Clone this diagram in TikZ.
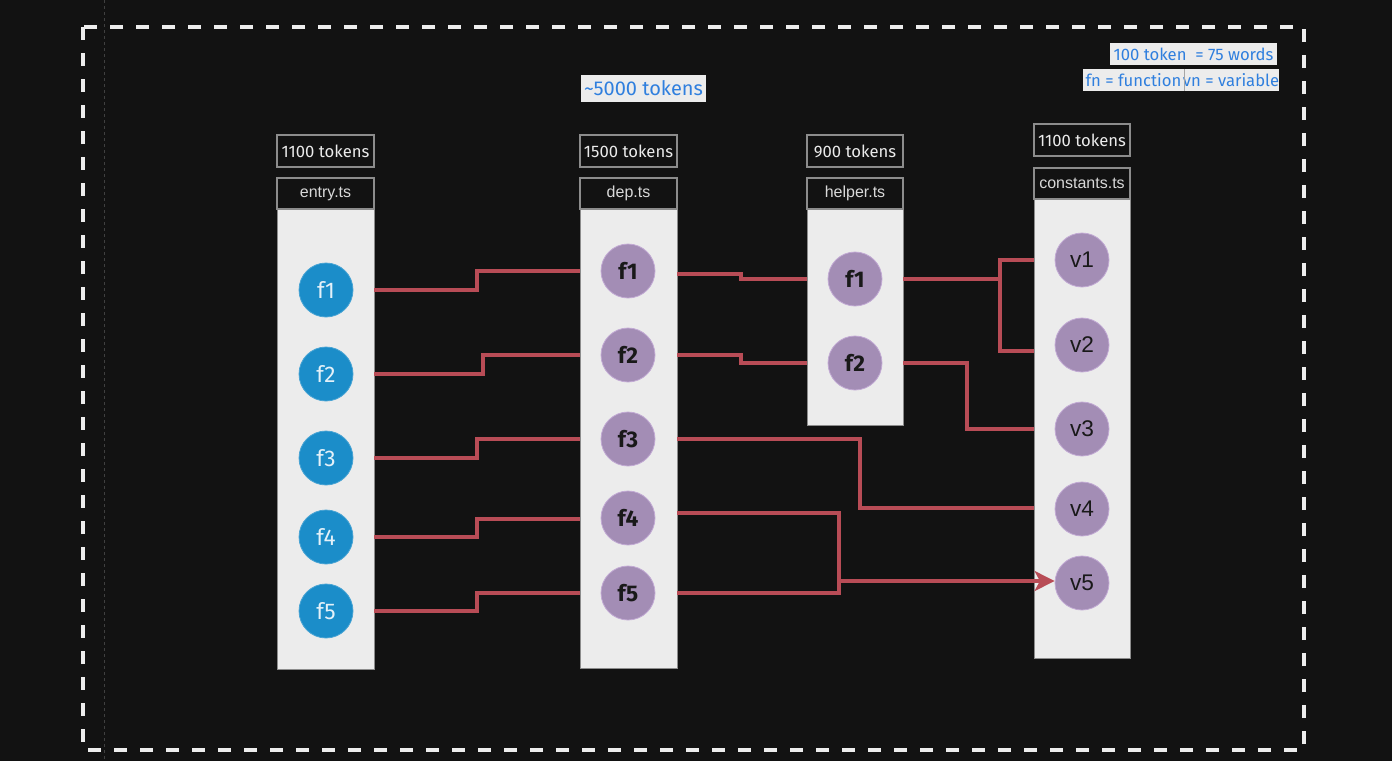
\documentclass[tikz,border=0pt]{standalone}
\usepackage{fontspec}
\setmainfont{Liberation Sans}
\newfontfamily\comic{Fira Sans}
\usetikzlibrary{arrows.meta,calc}
\definecolor{bg}{HTML}{121212}
\definecolor{panel}{HTML}{ECECEC}
\definecolor{edge}{HTML}{8C8C8C}
\definecolor{wirec}{HTML}{B84C56}
\definecolor{bluec}{HTML}{1B8DC9}
\definecolor{purp}{HTML}{A38DB5}
\definecolor{purpedge}{HTML}{C2AAD4}
\definecolor{legendtxt}{HTML}{2F7FDE}
\tikzset{
  body/.style={draw=edge, line width=0.75pt, fill=panel, minimum width=72.75pt, inner sep=0pt, outer sep=0pt},
  hdr/.style={draw=edge, line width=1.5pt, fill=bg, minimum width=72.75pt, minimum height=23.25pt, inner sep=0pt, outer sep=0pt, text=white!85!black, font=\fontsize{12}{14}\selectfont},
  tok/.style={draw=edge, line width=1.5pt, fill=bg, minimum width=72.75pt, minimum height=24pt, inner sep=0pt, outer sep=0pt, text=white!92!black, font=\comic\fontsize{12.5}{14}\selectfont},
  bc/.style={circle, fill=bluec, draw=bluec!80!white, line width=0.6pt, minimum size=40.5pt, inner sep=0pt, text=white!88!bluec, font=\comic\fontsize{17}{19}\selectfont},
  pc/.style={circle, fill=purp, draw=purpedge, line width=0.6pt, minimum size=40.5pt, inner sep=0pt, text=black!90, font=\comic\fontsize{17}{19}\selectfont\bfseries},
  vc/.style={circle, fill=purp, draw=purpedge, line width=0.6pt, minimum size=40.5pt, inner sep=0pt, text=black!90, font=\fontsize{17}{19}\selectfont},
  wire/.style={draw=wirec, line width=2.5pt},
  legend/.style={fill=panel, inner sep=0pt, outer sep=0pt, text=legendtxt, font=\comic\fontsize{12.5}{14}\selectfont}
}
\begin{document}
\begin{tikzpicture}[x=0.75pt,y=-0.75pt]
\fill[bg] (0,0) rectangle (1392,761);
\useasboundingbox (0,0) rectangle (1392,761);
% faint guide line
\draw[black!75!white, line width=0.75pt, dash pattern=on 2.25pt off 2.25pt] (104,0) -- (104,761);
% outer dashed frame
\draw[white!93!black, line width=3.4pt, dash pattern=on 9.75pt off 9.75pt] (83,27) rectangle (1304,750);

% title and legend
\node[legend, minimum width=93.75pt, minimum height=20.25pt, font=\comic\fontsize{15}{17}\selectfont] (title) at (643.5,88.5) {\textasciitilde5000 tokens};
\node[legend, minimum width=125.25pt, minimum height=16.5pt] (leg1) at (1193.5,54) {100 token\ \ = 75 words};
\node[legend, minimum width=75.75pt, minimum height=16.5pt] (leg2) at (1133.5,80) {fn = function};
\node[legend, minimum width=70.5pt, minimum height=16.5pt] (leg3) at (1231,80) {vn = variable};
\draw[black!35, line width=0.75pt] (leg2.north east) -- (leg2.south east);

% entry.ts column
\node[body, minimum height=345pt] (eb) at (325.5,439) {};
\node[hdr] (eh) at (325.5,193.5) {entry.ts};
\node[tok] (et) at (325.5,151) {1100 tokens};
\node[bc] (e1) at (326,290) {f1};
\node[bc] (e2) at (326,374) {f2};
\node[bc] (e3) at (326,458) {f3};
\node[bc] (e4) at (326,537) {f4};
\node[bc] (e5) at (326,611) {f5};

% dep.ts column
\node[body, minimum height=344.25pt] (db) at (628.5,438.5) {};
\node[hdr] (dh) at (628.5,193.5) {dep.ts};
\node[tok] (dt) at (628.5,151) {1500 tokens};
\node[pc] (d1) at (628,271) {f1};
\node[pc] (d2) at (628,355) {f2};
\node[pc] (d3) at (628,439) {f3};
\node[pc] (d4) at (628,518) {f4};
\node[pc] (d5) at (628,593) {f5};

% helper.ts column
\node[body, minimum width=72pt, minimum height=162pt] (hb) at (855,317) {};
\node[hdr, minimum width=72pt] (hh) at (855,193.5) {helper.ts};
\node[tok, minimum width=72pt] (ht) at (855,151) {900 tokens};
\node[pc] (h1) at (855,279) {f1};
\node[pc] (h2) at (855,363) {f2};

% constants.ts column
\node[body, minimum width=72pt, minimum height=344.25pt] (cb) at (1082,428.5) {};
\node[hdr, minimum width=72pt] (ch) at (1082,183) {constants.ts};
\node[tok, minimum width=72pt] (ct) at (1082,140) {1100 tokens};
\node[vc] (v1) at (1082,260) {v1};
\node[vc] (v2) at (1082,345) {v2};
\node[vc] (v3) at (1082,429) {v3};
\node[vc] (v4) at (1082,509) {v4};
\node[vc] (v5) at (1082,583) {v5};

% entry -> dep
\draw[wire] (eb.east |- e1) -- ++(103,0) |- (db.west |- d1);
\draw[wire] (eb.east |- e2) -- ++(109,0) |- (db.west |- d2);
\draw[wire] (eb.east |- e3) -- ++(103,0) |- (db.west |- d3);
\draw[wire] (eb.east |- e4) -- ++(103,0) |- ($(db.west |- d4)+(0,1)$);
\draw[wire] (eb.east |- e5) -- ++(103,0) |- (db.west |- d5);

% dep -> helper
\draw[wire] ($(db.east |- d1)+(0,3)$) -- ++(64,0) |- (hb.west |- h1);
\draw[wire] (db.east |- d2) -- ++(64,0) |- (hb.west |- h2);

% helper -> constants
\draw[wire] (hb.east |- h1) -- ++(97,0) |- (cb.west |- v1);
\draw[wire] (hb.east |- h1) -- ++(97,0) |- ($(cb.west |- v2)+(0,6)$);
\draw[wire] (hb.east |- h2) -- ++(64,0) |- (cb.west |- v3);

% dep -> constants
\draw[wire] (db.east |- d3) -- ++(183,0) |- ($(cb.west |- v4)+(0,-1)$);
\coordinate (j) at (839,581);
\draw[wire] ($(db.east |- d4)+(0,-5)$) -| (j);
\draw[wire] (db.east |- d5) -| (j);
\draw[wire, -{Stealth[length=15pt, width=15pt, inset=4pt]}] (j) -- (j -| v5.west);
\end{tikzpicture}
\end{document}
